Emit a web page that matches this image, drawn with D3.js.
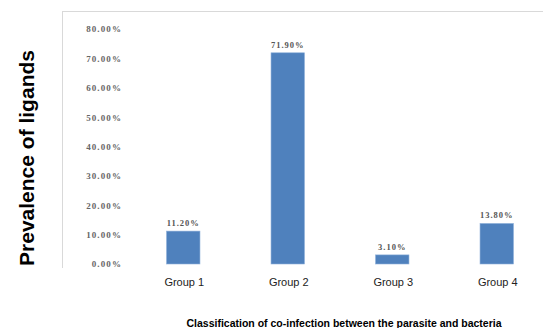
<!DOCTYPE html>
<html>
<head>
<meta charset="utf-8">
<script src="https://cdn.jsdelivr.net/npm/d3@7"></script>
<style>
  body { margin: 0; background: #fff; }
</style>
</head>
<body>
<script>
var groups = ['Group 1', 'Group 2', 'Group 3', 'Group 4'];
var prevalence = [11.2, 71.9, 3.1, 13.8];
var tickValues = [0, 10, 20, 30, 40, 50, 60, 70, 80];

const svg = d3.select('body').append('svg')
    .attr('width', 543)
    .attr('height', 328);

// plot frame (only top and left edges show in the picture)
svg.append('line')
    .attr('x1', 62).attr('x2', 543)
    .attr('y1', 11.5).attr('y2', 11.5)
    .attr('stroke', '#d9d9d9');
svg.append('line')
    .attr('x1', 62.5).attr('x2', 62.5)
    .attr('y1', 11).attr('y2', 268)
    .attr('stroke', '#d9d9d9');

var x = d3.scaleBand()
    .domain(groups)
    .range([131, 549])
    .paddingInner(0.68)
    .paddingOuter(0.34);

var y = d3.scaleLinear()
    .domain([0, 80])
    .range([264, 29]);

var yAxis = svg.append('g')
    .attr('transform', 'translate(122,0)')
    .call(d3.axisLeft(y).tickValues(tickValues).tickSize(0).tickPadding(0)
        .tickFormat(d => d3.format('.2f')(d) + '%'));
yAxis.select('.domain').remove();
yAxis.selectAll('text')
    .attr('font-family', 'Liberation Serif')
    .attr('font-weight', 'bold')
    .attr('font-size', 9)
    .attr('letter-spacing', 1.1)
    .attr('fill', '#666')
    .attr('dy', '0.32em');

svg.selectAll('rect.bar')
    .data(prevalence)
    .enter()
  .append('rect')
    .attr('class', 'bar')
    .attr('x', (d, i) => x(groups[i]))
    .attr('width', x.bandwidth())
    .attr('y', d => y(d))
    .attr('height', d => y(0) - y(d))
    .attr('fill', '#4f81bd')
    .attr('stroke', '#8eb0da')
    .attr('stroke-width', 0.6);

svg.selectAll('text.val')
    .data(prevalence)
    .enter()
  .append('text')
    .attr('class', 'val')
    .text(d => d3.format('.2f')(d) + '%')
    .attr('x', (d, i) => x(groups[i]) + x.bandwidth() / 2)
    .attr('y', d => y(d) - 5)
    .attr('text-anchor', 'middle')
    .attr('font-family', 'Liberation Serif')
    .attr('font-weight', 'bold')
    .attr('font-size', 8.5)
    .attr('letter-spacing', 1)
    .attr('fill', '#555');

svg.selectAll('text.grp')
    .data(groups)
    .enter()
  .append('text')
    .attr('class', 'grp')
    .text(d => d)
    .attr('x', d => x(d) + x.bandwidth() / 2 + 1)
    .attr('y', 286)
    .attr('text-anchor', 'middle')
    .attr('font-family', 'Liberation Sans')
    .attr('font-size', 11)
    .attr('fill', '#222');

svg.append('text')
    .text('Classification of co-infection between the parasite and bacteria')
    .attr('x', 344)
    .attr('y', 327)
    .attr('text-anchor', 'middle')
    .attr('font-family', 'Liberation Sans')
    .attr('font-weight', 'bold')
    .attr('font-size', 10.5)
    .attr('fill', '#000');

svg.append('text')
    .text('Prevalence of ligands')
    .attr('transform', 'translate(34,158) rotate(-90)')
    .attr('text-anchor', 'middle')
    .attr('font-family', 'Liberation Sans')
    .attr('font-weight', 'bold')
    .attr('font-size', 21)
    .attr('fill', '#000');
</script>
</body>
</html>
